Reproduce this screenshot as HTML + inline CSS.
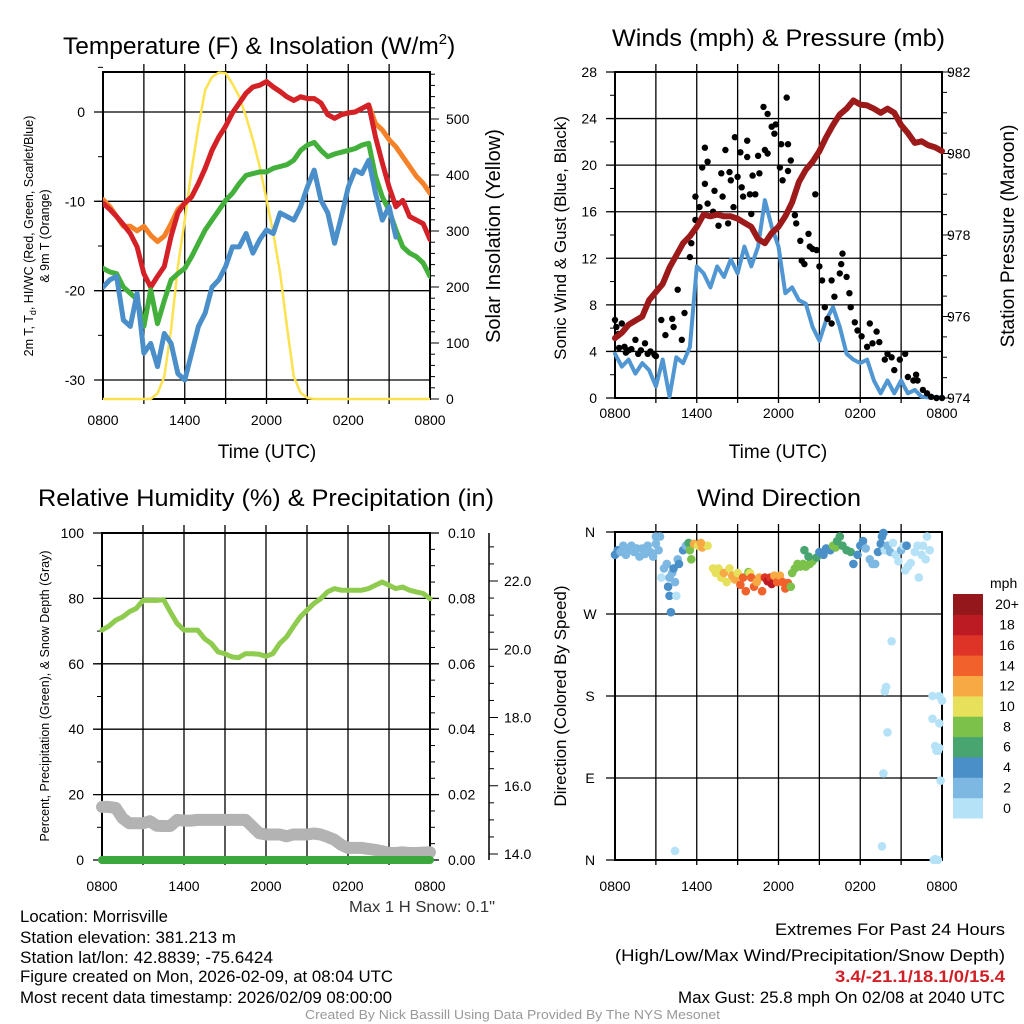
<!DOCTYPE html>
<html><head><meta charset="utf-8"><title>Morrisville Meteogram</title>
<style>
html,body{margin:0;padding:0;background:#fff;}
svg{display:block;font-family:"Liberation Sans",Arial,sans-serif;}
</style></head>
<body>
<svg id="chart" width="1024" height="1024" viewBox="0 0 1024 1024" xmlns="http://www.w3.org/2000/svg">
<rect x="0" y="0" width="1024" height="1024" fill="#fff"/>
<g id="p1"></g>
<g id="p2"></g>
<g id="p3"></g>
<g id="p4"></g>
<g id="cb"></g>
<g font-size="16.5" fill="#000">
<text x="20" y="922" textLength="148" lengthAdjust="spacingAndGlyphs">Location: Morrisville</text>
<text x="20" y="943" textLength="216" lengthAdjust="spacingAndGlyphs">Station elevation: 381.213 m</text>
<text x="20" y="963" textLength="253" lengthAdjust="spacingAndGlyphs">Station lat/lon: 42.8839; -75.6424</text>
<text x="20" y="982" textLength="373" lengthAdjust="spacingAndGlyphs">Figure created on Mon, 2026-02-09, at 08:04 UTC</text>
<text x="20" y="1003" textLength="372" lengthAdjust="spacingAndGlyphs">Most recent data timestamp: 2026/02/09 08:00:00</text>
</g>
<g font-size="16.5">
<text x="775" y="935" textLength="230" lengthAdjust="spacingAndGlyphs">Extremes For Past 24 Hours</text>
<text x="615" y="961" textLength="390" lengthAdjust="spacingAndGlyphs">(High/Low/Max Wind/Precipitation/Snow Depth)</text>
<text x="835" y="982" fill="#d11f26" font-weight="bold" textLength="170" lengthAdjust="spacingAndGlyphs">3.4/-21.1/18.1/0/15.4</text>
<text x="678" y="1003" textLength="327" lengthAdjust="spacingAndGlyphs">Max Gust: 25.8 mph On 02/08 at 2040 UTC</text>
</g>
<text x="305" y="1019" font-size="13" fill="#999" textLength="415" lengthAdjust="spacingAndGlyphs">Created By Nick Bassill Using Data Provided By The NYS Mesonet</text>
<text x="349" y="912" font-size="16" fill="#333" textLength="146" lengthAdjust="spacingAndGlyphs">Max 1 H Snow: 0.1"</text>
</svg>
<script>
// ---------- DATA ----------
const hours = [0,0.5,1,1.5,2,2.5,3,3.5,4,4.5,5,5.5,6,6.5,7,7.5,8,8.5,9,9.5,10,10.5,11,11.5,12,12.5,13,13.5,14,14.5,15,15.5,16,16.5,17,17.5,18,18.5,19,19.5,20,20.5,21,21.5,22,22.5,23,23.5,24];
const xTickLabels = ["0800","1400","2000","0200","0800"];
const xTickHours = [0,6,12,18,24];
const temp9m = [-9.8,-10.6,-11.7,-12.8,-12.8,-13.3,-12.8,-13.8,-14.5,-13.9,-12.5,-10.9,-10.2,-9.5,-8.0,-6.3,-4.3,-2.8,-1.6,-0.1,1.0,2.1,2.8,3.0,3.4,2.8,2.3,1.7,1.3,1.7,1.5,1.5,1.0,-0.3,-0.7,-0.3,-0.1,0.0,0.4,0.8,-1.3,-2.0,-3.1,-3.9,-5.0,-6.1,-7.2,-8.0,-9.1];
const tempHiWc = [-10.2,-10.9,-11.7,-12.6,-13.6,-15.1,-18.1,-19.6,-18.4,-17.3,-13.9,-11.3,-10.2,-9.5,-8.0,-6.3,-4.3,-2.8,-1.6,-0.1,1.0,2.1,2.8,3.0,3.4,2.8,2.3,1.7,1.3,1.7,1.5,1.5,1.0,-0.3,-0.7,-0.3,-0.1,0.0,0.4,0.8,-2.8,-5.7,-8.4,-10.6,-9.9,-11.7,-12.1,-12.5,-14.3];
const temp2m = [-17.5,-17.9,-18.1,-19.6,-20.3,-21.0,-24.0,-19.9,-23.7,-21.1,-18.8,-18.1,-17.5,-16.2,-14.7,-13.2,-12.1,-11.0,-9.9,-9.1,-8.0,-7.1,-6.9,-6.7,-6.7,-6.3,-6.1,-5.9,-5.4,-4.3,-3.7,-3.4,-4.3,-5.0,-4.7,-4.5,-4.3,-4.1,-3.7,-3.5,-7.2,-9.5,-11.0,-13.2,-15.1,-15.8,-16.2,-16.9,-18.4];
const dewHours = [0,0.5,1,1.5,2,2.5,3,3.5,4,4.5,5,5.5,6,6.5,7,7.5,8,8.5,9,9.5,10,10.5,11,11.5,12,12.5,13,13.5,14,14.5,15,15.5,16,16.5,17,17.5,18,18.5,19,19.5,20,20.5,21,21.5];
const dewPoint = [-19.6,-18.8,-18.4,-23.3,-24.0,-20.3,-27.0,-25.9,-28.5,-24.8,-25.9,-29.3,-30.0,-27.0,-24.0,-22.5,-19.6,-18.8,-17.3,-15.1,-15.1,-13.6,-15.8,-14.3,-13.2,-13.6,-11.3,-11.7,-12.1,-10.6,-8.4,-6.5,-9.9,-11.3,-14.7,-11.7,-8.4,-6.5,-6.9,-5.4,-9.1,-12.1,-10.6,-14.0];
const solar = [0,0,0,0,0,0,0,0,10,40,124,237,320,409,486,552,575,583,582,563,540,504,463,415,356,296,225,130,40,11,2,0,0,0,0,0,0,0,0,0,0,0,0,0,0,0,0,0,0];
const pressure = [975.47,975.6,975.8,975.9,976.0,976.4,976.6,976.8,977.2,977.5,977.8,977.97,978.2,978.5,978.46,978.5,978.46,978.46,978.4,978.3,978.2,977.9,977.8,978.05,978.2,978.46,978.8,979.3,979.6,979.8,980.06,980.4,980.7,980.96,981.1,981.3,981.2,981.18,981.1,981.0,981.1,981.0,980.7,980.5,980.26,980.3,980.2,980.15,980.06];
const windSpeed = [3.8,2.7,3.3,2.1,3.0,2.4,1.0,3.3,0.1,3.5,3.0,4.4,11.3,10.7,9.5,11.3,10.4,11.9,10.7,13.0,11.3,13.0,17.0,14.7,13.0,9.0,9.5,8.4,8.1,6.1,4.9,6.7,7.8,6.1,3.8,3.3,3.0,3.3,1.5,0.4,1.5,0.4,1.5,0.4,0.7,0.1,0.05,0.05,0.05];
const gustHours = [0,0.1,0.25,0.3,0.5,0.7,0.8,1,1.2,1.5,1.7,1.9,2.2,2.4,2.6,2.9,3.0,3.4,3.7,4.2,4.3,4.6,4.9,5.1,5.5,5.6,5.9,5.9,6.2,6.4,6.6,6.6,6.8,6.8,7.3,7.2,7.6,7.8,7.9,8.1,8.3,8.4,8.5,8.8,8.7,9,9.2,9.3,9.4,9.7,9.7,9.9,10,10.1,10.3,10.5,10.6,10.9,11,11.2,11.2,11.5,11.7,11.8,12.1,12.2,12.3,12.6,12.7,12.7,12.9,13.2,13.3,13.6,13.7,13.9,14.2,14.3,14.5,14.7,14.8,15,15.2,15.4,15.6,15.9,15.9,16.1,16.5,16.6,16.7,17,17.2,17.3,17.6,17.8,18.1,18.5,18.7,18.9,19.2,19.4,19.8,20,20.3,20.5,20.9,21.3,21.5,21.9,22.1,22.2,22.6,22.9,23.2,23.6,24];
const gustSpeed = [6.7,6.1,5.5,4.3,6.4,4.4,3.9,4.1,4.2,5.0,3.8,4.1,4.7,3.8,4.0,3.7,3.6,6.7,5.4,6.8,6.1,9.3,5.0,7.3,12.1,13.3,15.3,17.3,16.4,19.8,21.5,18.4,20.3,16.7,17.8,16.0,14.8,19.3,17.3,21.3,15.0,19.4,18.7,22.4,16.4,19.0,21.1,18.1,17.3,20.7,22.1,17.5,15.8,19.1,17.5,20.8,19.3,25.0,21.3,24.4,21.0,23.3,22.7,23.5,19.8,21.8,18.7,25.8,21.8,19.5,20.4,15.7,15.0,13.5,11.8,11.5,14.1,13.0,12.8,17.5,12.7,11.3,10.1,7.8,6.8,6.4,10.1,8.7,10.7,11.5,12.4,10.4,9.0,7.8,6.5,5.8,5.3,4.4,6.4,4.7,5.7,4.8,3.3,3.8,3.5,2.4,3.3,3.8,1.8,1.5,2.0,1.5,0.7,0.4,0.1,0.0,0.0];
const rh = [70.3,71.5,73.3,74.3,75.9,76.9,79.4,79.4,79.4,79.6,75.9,72.3,70.3,70.3,70.3,67.7,66.2,63.6,63.1,62.1,61.9,63.1,63.1,62.9,62.3,63.1,66.2,68.2,71.3,74.3,76.4,78.4,79.9,82.0,83.0,82.5,82.5,82.5,82.5,83.0,84.0,85.0,84.0,83.0,83.5,82.5,82.0,81.5,79.9];
const precip = [0,0,0,0,0,0,0,0,0,0,0,0,0,0,0,0,0,0,0,0,0,0,0,0,0,0,0,0,0,0,0,0,0,0,0,0,0,0,0,0,0,0,0,0,0,0,0,0,0];
const snowDepth = [15.38,15.38,15.35,15.05,14.9,14.9,14.9,14.96,14.83,14.82,14.82,15.0,14.98,14.98,15.0,15.0,15.0,15.0,15.0,15.0,15.0,15.0,14.81,14.61,14.57,14.57,14.57,14.52,14.57,14.57,14.57,14.6,14.57,14.5,14.42,14.27,14.18,14.18,14.18,14.15,14.12,14.08,14.03,14.03,14.05,14.03,14.03,14.04,14.05];
const dirHours = [0,0.2,0.4,0.6,0.8,1,1.2,1.4,1.6,1.8,2,2.2,2.4,2.6,2.8,3,3.0,3.2,3.3,3.4,3.6,3.8,3.9,4,4.1,4,4.2,4.3,4.4,4.6,4.7,4.5,5,5.2,5.4,5.5,5.6,5.8,6.1,6.4,6.8,6.3,7.2,7.4,7.6,7.8,8,8.2,8.4,8.6,8.8,9,9.2,9.4,9.6,9.8,9.9,10,10.2,10.4,10.6,10.8,11,11.2,11.4,11.5,11.7,11.9,12.1,12.3,12.5,12.7,12.9,13,13.2,13.4,13.6,13.8,14,14.3,14.5,14.8,13.9,14.2,15,15.3,15.5,15.8,16,16.2,16.3,16.5,16.7,17,17.3,17.5,17.8,18,18.2,18.4,18.7,18.9,19.1,19.3,19.5,19.6,19.7,19.8,20,20.2,20.4,20.6,20.8,21,21.2,21.3,21.4,21.5,21.7,22,22.2,22.3,22.5,22.6,22.8,22.9,23.1,4.4,19.6,19.7,19.8,19.9,20.0,20.3,23.3,23.3,23.7,23.8,24,23.5,23.6,23.7,23.8,23.9,23.4,23.5,23.8];
const dirDeg = [335,340,338,345,335,340,345,338,342,333,342,336,345,338,333,355,347,340,355,310,320,325,300,290,272,310,315,320,305,330,325,290,340,345,348,340,330,347,345,343,345,348,320,315,320,310,315,305,320,312,308,315,302,310,295,316,315,310,300,305,310,295,310,306,310,303,312,305,312,305,298,304,300,315,320,325,322,325,322,325,328,332,340,333,338,335,342,340,345,343,350,355,345,340,338,325,335,345,350,342,330,325,325,338,347,355,359,340,345,338,348,335,328,340,345,318,345,322,326,338,345,310,335,345,330,355,340,10,15,95,185,190,140,240,180,155,0,150,175,125,120,120,123,87,0,1,180];
const dirSpeed = [4.5,4.5,3,3,3,3,3,3,3,3,3,3,3,3,3,3,3,3,3,1.5,3,3,4.5,4.5,4.5,3,3,4.5,3,3,4.5,1.5,4.5,3,6,9,9,12,11,12,11,13,11,10,11,11,12,11,11,13,13,10,14,15,15,8,10,14,14,12,12,14,17,19,16,18,12,15,13,14,14,14,8,8,8,8,8,8,8,8,8,7,7,7,4.5,5,5,4.5,8,8,7,7,7,7,7,5,4.5,4.5,5,3,3,3,3,4.5,4.5,4.5,5,1,3,3,1,1,1,3,1,1,4.5,1,1,1,1,1,1,1,1,1,1,1,1,1,1,1,1,1,1,1,1,1,1,1,1,1,1,1,1,1,1];
const speedBins = ["0","2","4","6","8","10","12","14","16","18","20+"];
const speedColors = ["#b6e2f8","#7db8e3","#4a8fc7","#48a56f","#7cc24a","#e7e05a","#f7a944","#f0612b","#de3427","#bd1b23","#93171b"];
const tempTicks = [0,-10,-20,-30];
const solarTicks = [0,100,200,300,400,500];
const windTicks = [0,4,8,12,16,20,24,28];
const pressTicks = [974,976,978,980,982];
const rhTicks = [0,20,40,60,80,100];
const precipTicks = ["0.00","0.02","0.04","0.06","0.08","0.10"];
const snowTicks = ["14.0","16.0","18.0","20.0","22.0"];
const dirTicks = ["N","E","S","W","N"];

// ---------- HELPERS ----------
const NS = "http://www.w3.org/2000/svg";
function mk(parent, tag, attrs, text) {
  const e = document.createElementNS(NS, tag);
  for (const k in attrs) e.setAttribute(k, attrs[k]);
  if (text !== undefined) e.textContent = text;
  parent.appendChild(e);
  return e;
}
function lin(d0, d1, r0, r1) { return v => r0 + (v - d0) * (r1 - r0) / (d1 - d0); }
function pathFrom(xs, ys, fx, fy) {
  let d = "";
  for (let i = 0; i < xs.length; i++) d += (i ? "L" : "M") + fx(xs[i]).toFixed(1) + " " + fy(ys[i]).toFixed(1);
  return d;
}
function speedColor(s) { let i = Math.floor(s / 2); if (i > 10) i = 10; if (i < 0) i = 0; return speedColors[i]; }

function frame(g, L, R, T, B, xs, vLines, hLines) {
  for (const y of hLines) {
    const l = mk(g, "line", {x1: L - 9, x2: R, y1: y, y2: y, stroke: "#000", "stroke-width": 1.3});
    
    
  }
  for (const x of vLines) {
    const l = mk(g, "line", {x1: x, x2: x, y1: T - 8, y2: B + 5, stroke: "#000", "stroke-width": 1.3});
    
    
  }
  const r = mk(g, "rect", {x: L, y: T, width: R - L, height: B - T, fill: "none", stroke: "#000", "stroke-width": 2});
  
  
}
function xLabels(g, fx, y) {
  for (let i = 0; i < xTickLabels.length; i++) {
    const t = mk(g, "text", {x: fx(xTickHours[i]), y: y, "text-anchor": "middle", "font-size": 14}, xTickLabels[i]);
    
    
  }
}
function minorTicks(g, x, y0, y1, n, dir) {
  for (let i = 0; i <= n; i++) {
    const y = y0 + (y1 - y0) * i / n;
    mk(g, "line", {x1: x, x2: x + dir * 5, y1: y, y2: y, stroke: "#000", "stroke-width": 1});
  }
}
function vText(g, x, y, size, txt, name) {
  const t = mk(g, "text", {x: x, y: y, "text-anchor": "middle", "font-size": size, transform: "rotate(-90 " + x + " " + y + ")"}, txt);
  
  
  return t;
}
function title(g, x, y, txt, name, len) {
  const t = mk(g, "text", {x: x, y: y, "font-size": 24.5}, txt);
  if (len) { t.setAttribute("textLength", len); t.setAttribute("lengthAdjust", "spacingAndGlyphs"); }
  
  
  return t;
}
function series(g, d, color, w, name) {
  const p = mk(g, "path", {d: d, fill: "none", stroke: color, "stroke-width": w, "stroke-linejoin": "round", "stroke-linecap": "round"});
  
  
  return p;
}

// ---------- PANEL 1 ----------
(function () {
  const g = document.getElementById("p1");
  const L = 103, R = 430, T = 72, B = 399;
  const fx = lin(0, 24, L, R);
  const fy = lin(0, -30, 112, 380);
  const fs = lin(0, 500, 399, 119);
  const vl = []; for (let h = 3; h < 24; h += 3) vl.push(fx(h));
  frame(g, L, R, T, B, null, vl, tempTicks.map(fy));
  minorTicks(g, L, fy(5), fy(-30), 7, -1);
  for (let v = 0; v <= 580; v += 20) mk(g, "line", {x1: R, x2: R + (v % 100 === 0 ? 9 : 5), y1: fs(v), y2: fs(v), stroke: "#000", "stroke-width": 1});
  for (const v of tempTicks) { const t = mk(g, "text", {x: 85, y: fy(v) + 5, "text-anchor": "end", "font-size": 14}, String(v));   }
  for (const v of solarTicks) { const t = mk(g, "text", {x: 446, y: fs(v) + 5, "font-size": 14}, String(v));   }
  xLabels(g, fx, 425);
  const tt = mk(g, "text", {x: 267, y: 458, "text-anchor": "middle", "font-size": 19}, "Time (UTC)");
  
  
  const ti = mk(g, "text", {x: 63, y: 54, "font-size": 24.5}, "Temperature (F) & Insolation (W/m");
  
  
  mk(ti, "tspan", {dy: -10, "font-size": 15}, "2");
  mk(ti, "tspan", {dy: 10}, ")");
  const yl = mk(g, "text", {x: 33, y: 236, "text-anchor": "middle", "font-size": 12.5, transform: "rotate(-90 33 236)"}, "2m T, T");
  mk(yl, "tspan", {dy: 3, "font-size": 9}, "d");
  mk(yl, "tspan", {dy: -3}, ", HI/WC (Red, Green, Scarlet/Blue)");
  
  
  vText(g, 49, 236, 12.5, "& 9m T (Orange)", "y-axis-title-temp-line2");
  vText(g, 500, 236, 20, "Solar Insolation (Yellow)", "y-axis-title-solar");
  const clip = mk(g, "clipPath", {id: "c1"}); mk(clip, "rect", {x: L, y: T - 2, width: R - L, height: B - T + 4});
  const s = mk(g, "g", {"clip-path": "url(#c1)"});
  series(s, pathFrom(hours, solar, fx, fs), "#fde24f", 2.5, "solar-line");
  series(s, pathFrom(hours, temp9m, fx, fy), "#f58229", 5, "temp-9m-line");
  series(s, pathFrom(hours, tempHiWc, fx, fy), "#d42027", 5, "hi-wc-line");
  series(s, pathFrom(hours, temp2m, fx, fy), "#43b03b", 5, "temp-2m-line");
  series(s, pathFrom(dewHours, dewPoint, fx, fy), "#4a8fc9", 5, "dewpoint-line");
})();

// ---------- PANEL 2 ----------
(function () {
  const g = document.getElementById("p2");
  const L = 615, R = 942, T = 72, B = 398;
  const fx = lin(0, 24, L, R);
  const fy = lin(0, 28, B, T);
  const fp = lin(974, 982, B, T);
  const vl = []; for (let h = 3; h < 24; h += 3) vl.push(fx(h));
  frame(g, L, R, T, B, null, vl, windTicks.map(fy));
  minorTicks(g, L, T, B, 14, -1);
  for (let v = 974; v <= 982.01; v += 0.5) mk(g, "line", {x1: R, x2: R + (Math.abs(v - Math.round(v / 2) * 2) < 0.01 ? 9 : 5), y1: fp(v), y2: fp(v), stroke: "#000", "stroke-width": 1});
  for (const v of windTicks) { const t = mk(g, "text", {x: 597, y: fy(v) + 5, "text-anchor": "end", "font-size": 14}, String(v));   }
  for (const v of pressTicks) { const t = mk(g, "text", {x: 947, y: fp(v) + 5, "font-size": 14}, String(v));   }
  xLabels(g, fx, 418);
  const tt = mk(g, "text", {x: 778, y: 458, "text-anchor": "middle", "font-size": 19}, "Time (UTC)");
  
  
  title(g, 612, 46, "Winds (mph) & Pressure (mb)", "panel-title-winds", 333);
  vText(g, 566, 238, 17, "Sonic Wind & Gust (Blue, Black)", "y-axis-title-wind");
  vText(g, 1014, 236, 19, "Station Pressure (Maroon)", "y-axis-title-pressure");
  series(g, pathFrom(hours, windSpeed, fx, fy), "#4f96d2", 4, "wind-speed-line");
  for (let i = 0; i < gustHours.length; i++) {
    const c = mk(g, "circle", {cx: fx(gustHours[i]).toFixed(1), cy: fy(gustSpeed[i]).toFixed(1), r: 3.2, fill: "#000"});
    
    
  }
  series(g, pathFrom(hours, pressure, fx, fp), "#9d1a1b", 6, "pressure-line");
})();

// ---------- PANEL 3 ----------
(function () {
  const g = document.getElementById("p3");
  const L = 102, R = 430, T = 533, B = 860;
  const fx = lin(0, 24, L, R);
  const fy = lin(0, 100, B, T);
  const fz = lin(14, 22, 854, 581);
  const vl = []; for (let h = 3; h < 24; h += 3) vl.push(fx(h));
  frame(g, L, R, T, B, null, vl, rhTicks.map(fy));
  minorTicks(g, L, T, B, 10, -1);
  minorTicks(g, R, T, B, 20, 1);
  for (const v of rhTicks) mk(g, "line", {x1: R, x2: R + 9, y1: fy(v), y2: fy(v), stroke: "#000", "stroke-width": 1.3});
  for (const v of rhTicks) { const t = mk(g, "text", {x: 84, y: fy(v) + 5, "text-anchor": "end", "font-size": 14}, String(v));   }
  for (let i = 0; i < precipTicks.length; i++) { const t = mk(g, "text", {x: 448, y: fy(i * 20) + 5, "font-size": 14}, precipTicks[i]);   }
  const ax = mk(g, "line", {x1: 489, x2: 489, y1: T, y2: B, stroke: "#000", "stroke-width": 1.5});
  
  
  for (let v = 14; v <= 23; v += 0.5) mk(g, "line", {x1: 489, x2: 489 + (v % 2 === 0 ? 9 : 5), y1: fz(v), y2: fz(v), stroke: "#000", "stroke-width": 1});
  for (let i = 0; i < snowTicks.length; i++) { const t = mk(g, "text", {x: 504, y: fz(14 + i * 2) + 5, "font-size": 14}, snowTicks[i]);   }
  xLabels(g, fx, 891);
  title(g, 38, 506, "Relative Humidity (%) & Precipitation (in)", "panel-title-humidity", 456);
  vText(g, 49, 696, 12.5, "Percent, Precipitation (Green), & Snow Depth (Gray)", "y-axis-title-humidity");
  series(g, pathFrom(hours, snowDepth, fx, fz), "#b3b3b3", 12, "snow-depth-line");
  series(g, pathFrom(hours, rh, fx, fy), "#8fcb4f", 5, "rh-line");
  const fpz = lin(0, 0.1, B, T);
  series(g, pathFrom(hours, precip, fx, fpz), "#3aa83c", 8, "precip-line");
})();

// ---------- PANEL 4 ----------
(function () {
  const g = document.getElementById("p4");
  const L = 615, R = 942, T = 532, B = 860;
  const fx = lin(0, 24, L, R);
  const fy = lin(0, 360, B, T);
  const vl = []; for (let h = 3; h < 24; h += 3) vl.push(fx(h));
  frame(g, L, R, T, B, null, vl, [0, 90, 180, 270, 360].map(fy));
  for (let i = 0; i < dirTicks.length; i++) { const t = mk(g, "text", {x: 590, y: fy(i * 90) + 5, "text-anchor": "middle", "font-size": 14}, dirTicks[i]);   }
  xLabels(g, fx, 891);
  title(g, 697, 506, "Wind Direction", "panel-title-direction", 164);
  vText(g, 566, 696, 17, "Direction (Colored By Speed)", "y-axis-title-direction");
  for (let i = 0; i < dirHours.length; i++) {
    const c = mk(g, "circle", {cx: fx(dirHours[i]).toFixed(1), cy: fy(dirDeg[i]).toFixed(1), r: 4.3, fill: speedColor(dirSpeed[i])});
    
    
  }
  const cb = document.getElementById("cb");
  const t0 = mk(cb, "text", {x: 990, y: 588, "font-size": 14}, "mph");
  
  
  const h = 224 / speedBins.length;
  for (let i = 0; i < speedBins.length; i++) {
    const y = 818 - (i + 1) * h;
    const r = mk(cb, "rect", {x: 953, y: y.toFixed(1), width: 30, height: (h + 0.5).toFixed(1), fill: speedColors[i]});
    
    
    const t = mk(cb, "text", {x: 1007, y: (y + h / 2 + 5).toFixed(1), "text-anchor": "middle", "font-size": 14}, speedBins[i]);
    
    
  }
})();
</script>
</body></html>
